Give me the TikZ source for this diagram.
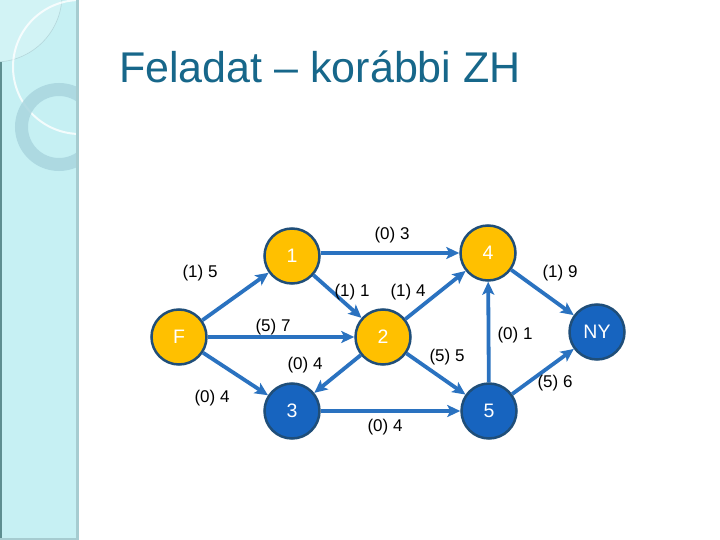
\documentclass[tikz,border=0pt]{standalone}
\usepackage{fontspec}
\setmainfont{Liberation Sans}
\usetikzlibrary{arrows.meta}
\definecolor{panel}{HTML}{C6F0F3}
\definecolor{panelstrip}{HTML}{A6CCD0}
\definecolor{paneledge}{HTML}{5E8E90}
\definecolor{ringc}{HTML}{A9D6DF}
\definecolor{titlec}{HTML}{17678A}
\definecolor{orangen}{HTML}{FFC000}
\definecolor{bluen}{HTML}{1764BF}
\definecolor{borderc}{HTML}{1F4E79}
\definecolor{edgec}{HTML}{2A72C0}
\tikzset{
  vnode/.style={circle, minimum size=55, inner sep=0, line width=2.5, draw=borderc, text=white, font=\fontsize{19.5}{19.5}\selectfont},
  onode/.style={vnode, fill=orangen, text=white},
  bnode/.style={vnode, fill=bluen},
  edge/.style={draw=edgec, line width=3.8, -{Stealth[length=13,width=12,inset=3]}},
  lbl/.style={font=\fontsize{17}{17}\selectfont, text=black, inner sep=0}
}
\begin{document}
\begin{tikzpicture}[x=1pt,y=-1pt]
\useasboundingbox (0,0) rectangle (720,540);
\fill[white] (0,0) rectangle (720,540);
% sidebar
\begin{scope}
\clip (0,0) rectangle (76,538);
\fill[panel] (0,0) rectangle (76,538);
\fill[white, opacity=0.22] (-5,-5) circle (67);
\draw[ringc!70!gray, opacity=0.5, line width=0.6] (-5,-5) circle (67);
\draw[white, opacity=0.8, line width=2] (80,67) circle (67);
\draw[ringc, opacity=0.85, line width=13] (59,127) circle (37.5);
\end{scope}
\fill[panelstrip] (76,0) rectangle (79,540);
\fill[paneledge] (0,62) rectangle (1.5,540);
\fill[panelstrip] (0,538) rectangle (79,540);
% title
\node[anchor=base west, inner sep=0, text=titlec, font=\fontsize{43}{43}\selectfont] (title) at (119,83) {Feladat – korábbi ZH};
% nodes
\node[onode] (F) at (179,337) {F};
\node[onode] (n1) at (292,256) {1};
\node[onode] (n2) at (383,337) {2};
\node[bnode] (n3) at (292,411) {3};
\node[onode] (n4) at (488,253) {4};
\node[bnode] (n5) at (489,411) {5};
\node[bnode] (NY) at (597,332) {NY};
% edges
\path[edge] (F) -- (n1);
\path[edge] (F) -- (n2);
\path[edge] (F) -- (n3);
\path[edge] (n1.east |- n4.west) -- (n4.west);
\path[edge] (n1) -- (n2);
\path[edge] (n2) -- (n4);
\path[edge] (n2) -- (n3);
\path[edge] (n2) -- (n5);
\path[edge] (n3) -- (n5);
\path[edge] (n5) -- (n4);
\path[edge] (n4) -- (NY);
\path[edge] (n5) -- (NY);
% labels
\node[lbl] (l03) at (392,235) {(0) 3};
\node[lbl] (l15) at (200,273) {(1) 5};
\node[lbl] (l11) at (352,292) {(1) 1};
\node[lbl] (l14) at (408,292) {(1) 4};
\node[lbl] (l57) at (273,327) {(5) 7};
\node[lbl] (l04a) at (305,365) {(0) 4};
\node[lbl] (l04b) at (212,398) {(0) 4};
\node[lbl] (l04c) at (385,427) {(0) 4};
\node[lbl] (l19) at (560,273) {(1) 9};
\node[lbl] (l01) at (515,335) {(0) 1};
\node[lbl] (l55) at (447,357) {(5) 5};
\node[lbl] (l56) at (555,383) {(5) 6};
\end{tikzpicture}
\end{document}
